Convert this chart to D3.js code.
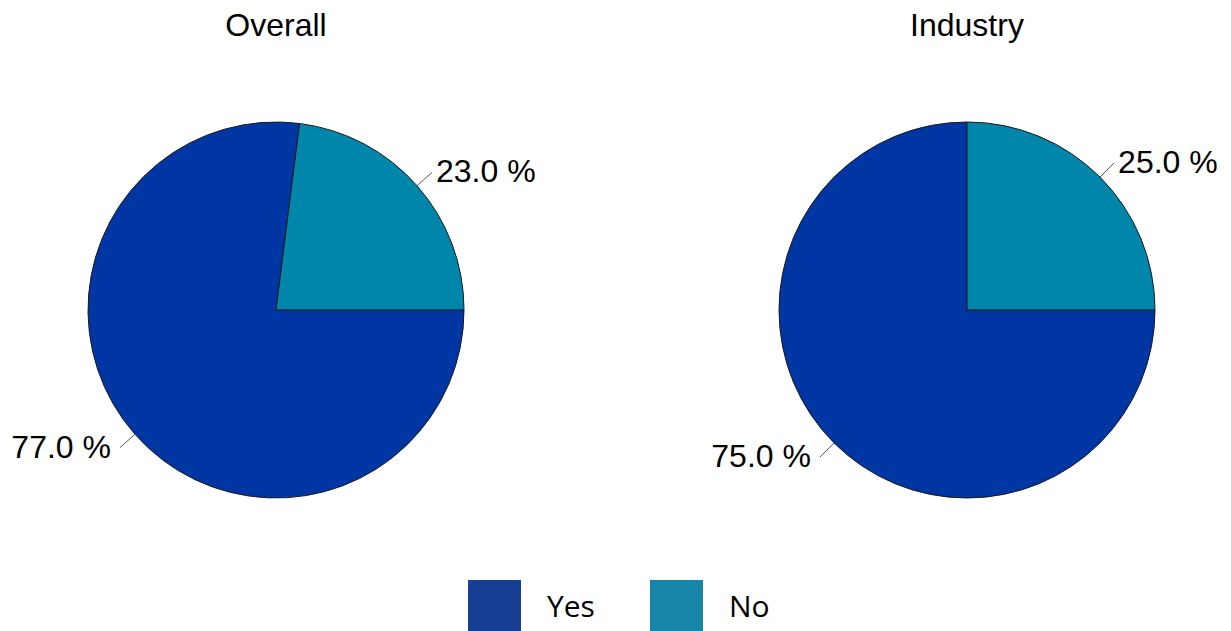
<!DOCTYPE html>
<html>
<head>
<meta charset="utf-8">
<script src="https://cdn.jsdelivr.net/npm/d3@7"></script>
<style>
  html, body { margin: 0; padding: 0; background: #fff; }
  svg { display: block; }
</style>
</head>
<body>
<svg width="1231" height="631"></svg>
<script>
var categories = ["Yes", "No"];
var panels = ["Overall", "Industry"];
var overallValues = [77.0, 23.0];
var industryValues = [75.0, 25.0];

var sliceColors = ["#0036a3", "#0086aa"];
var legendColors = ["#173f94", "#1785a8"];

var svg = d3.select("svg");
var W = 1231, H = 631;
var r = 188;

// centres of the two pies
var px = d3.scalePoint().domain(panels).range([276, 967]);
var cy = 310;

var pie = d3.pie().sort(null).value(function(d){ return d; })
  .startAngle(Math.PI/2).endAngle(Math.PI/2 + 2*Math.PI);
var arc = d3.arc().innerRadius(0).outerRadius(r);

var color = d3.scaleOrdinal().domain(categories).range(sliceColors);

var series = [overallValues, industryValues];

panels.forEach(function(name, i){
  var g = svg.append('g').attr('transform', 'translate(' + px(name) + ',' + cy + ')');

  svg.append('text')
    .attr('x', px(name)).attr('y', 36)
    .attr('text-anchor', 'middle')
    .style('font-family', '"Liberation Sans", Arial, sans-serif')
    .style('font-size', '32px')
    .style('fill', '#000')
    .text(name);

  var arcs = pie(series[i]);
  g.selectAll('path').data(arcs).enter().append('path')
    .attr('d', arc)
    .style('fill', function(d, j){ return color(categories[j]); })
    .style('stroke', '#1a1a1a')
    .style('stroke-width', 1);

  arcs.forEach(function(d){
    var a = (d.startAngle + d.endAngle) / 2;
    var sx = Math.sin(a), sy = -Math.cos(a);
    var x1 = sx * r, y1 = sy * r;
    var x2 = sx * (r + 20), y2 = sy * (r + 20);
    g.append('line')
      .attr('x1', x1).attr('y1', y1).attr('x2', x2).attr('y2', y2)
      .style('stroke', '#555').style('stroke-width', 1);
    var right = sx >= 0;
    g.append('text')
      .attr('x', right ? x2 + 4 : x2 - 9)
      .attr('y', y2 + 10)
      .attr('text-anchor', right ? 'start' : 'end')
      .style('font-family', '"Liberation Sans", Arial, sans-serif')
      .style('font-size', '32px')
      .style('fill', '#000')
      .text(d.data.toFixed(1) + ' %');
  });
});

// legend
var lx = d3.scalePoint().domain(categories).range([468, 650]);
categories.forEach(function(c, i){
  svg.append('rect')
    .attr('x', lx(c)).attr('y', 580)
    .attr('width', 53).attr('height', 52)
    .style('fill', legendColors[i]);
  svg.append('text')
    .attr('x', lx(c) + 79).attr('y', 617)
    .style('font-family', '"Open Sans", "Noto Sans", sans-serif')
    .style('font-size', '30px')
    .style('fill', '#000')
    .text(c);
});
</script>
</body>
</html>
